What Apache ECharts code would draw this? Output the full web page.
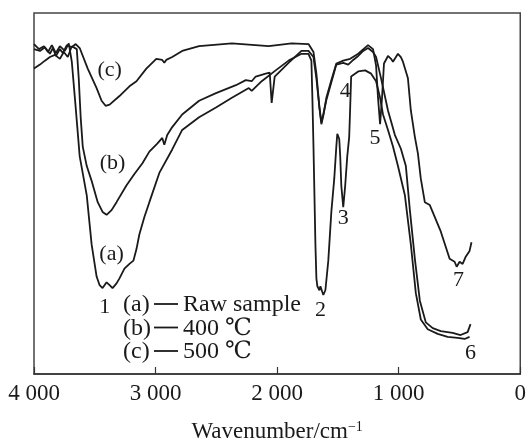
<!DOCTYPE html>
<html><head><meta charset="utf-8">
<script src="https://cdn.jsdelivr.net/npm/echarts@6/dist/echarts.min.js"></script>
<style>html,body{margin:0;padding:0;background:#fff}#chart{width:529px;height:448px}</style>
</head><body><div id="chart"></div>
<script>
// (a) Raw sample
const aWavenumber = [4000,3959,3918,3885,3853,3820,3787,3746,3714,3689,3657,3624,3566,3526,3485,3460,3436,3403,3378,3354,3321,3297,3256,3215,3182,3157,3133,3092,3051,2969,2863,2781,2642,2503,2372,2233,2209,2127,2012,1906,1800,1742,1718,1710,1701,1693,1685,1677,1669,1652,1644,1620,1603,1579,1554,1530,1513,1505,1489,1481,1472,1456,1440,1423,1407,1399,1391,1333,1276,1227,1186,1153,1129,1088,1047,1006,949,900,859,818,761,679,597,515,458,417];
const aTransmittance = [91.4,90.0,90.8,89.2,91.1,88.9,90.8,89.5,91.6,86.5,73.8,60.3,49.5,35.9,27.0,24.6,23.8,25.4,24.6,23.8,25.1,26.5,29.2,30.5,31.4,34.6,38.7,43.5,47.6,55.7,62.2,67.6,71.1,73.8,76.5,79.2,78.4,81.1,84.1,86.8,88.7,88.7,86.8,76.5,63.0,49.5,35.9,26.5,24.3,23.2,24.3,21.9,23.2,31.4,44.9,54.1,63.0,66.5,65.1,60.3,52.2,46.2,52.2,60.3,65.7,73.8,82.4,83.8,84.1,83.2,81.1,76.5,71.9,67.6,63.0,57.6,49.5,35.9,22.4,15.1,12.4,11.1,10.3,10.0,9.7,10.3];
// (b) 400 ℃
const bWavenumber = [4000,3951,3910,3869,3828,3787,3755,3722,3689,3648,3632,3616,3599,3566,3526,3476,3436,3403,3362,3321,3240,3174,3108,3051,2986,2945,2928,2904,2863,2781,2642,2503,2339,2258,2209,2176,2094,2061,2045,2020,1906,1800,1742,1701,1677,1652,1636,1620,1595,1554,1513,1456,1415,1374,1333,1292,1252,1211,1186,1145,1088,1031,982,941,908,867,826,777,720,654,556,491,433,409];
const bTransmittance = [84.6,85.7,86.8,87.8,88.4,87.3,89.2,87.8,90.8,90.0,81.9,71.1,63.0,57.6,53.5,47.6,44.9,44.1,45.4,47.6,52.2,55.4,58.4,61.6,63.8,65.4,63.5,66.2,68.4,71.9,75.7,77.8,80.0,81.4,81.1,82.4,83.2,83.5,75.1,82.4,86.2,89.5,89.5,87.8,81.9,73.8,69.7,71.9,75.9,80.8,85.7,86.2,85.7,87.0,88.1,89.5,90.3,89.2,87.8,81.9,73.0,66.2,62.4,57.6,45.4,31.9,20.3,14.3,12.7,11.9,11.4,10.8,11.6,13.8];
// (c) 500 ℃
const cWavenumber = [4000,3951,3910,3869,3845,3820,3787,3763,3730,3689,3657,3624,3558,3485,3444,3411,3378,3297,3215,3157,3076,2994,2945,2928,2912,2863,2781,2642,2372,2069,1881,1742,1701,1677,1652,1636,1620,1595,1554,1513,1456,1399,1333,1252,1211,1186,1170,1153,1137,1121,1088,1063,1047,1006,982,965,924,900,867,842,818,785,744,654,581,540,523,499,474,450,417,401];
const cTransmittance = [90.0,89.5,90.5,88.7,90.3,88.1,90.0,88.9,91.1,90.5,91.4,90.3,84.6,79.2,75.7,74.3,74.6,77.0,79.7,81.1,84.6,87.3,87.0,86.2,87.0,87.8,89.5,90.8,91.6,90.8,91.6,91.4,89.2,83.2,73.8,69.2,71.6,76.5,81.4,86.0,86.8,87.3,88.7,91.1,90.0,85.4,76.5,69.2,76.5,86.0,88.1,87.3,86.5,88.7,87.8,86.5,81.9,73.0,65.7,61.1,54.1,47.6,46.8,39.5,31.9,31.1,29.7,31.1,30.5,32.4,34.1,36.5];

// annotations
const annotTexts = ['1','2','3','4','5','6','7','(a)','(b)','(c)'];
const annotWavenumber = [3419,1644,1456,1440,1194,409,507,3362,3354,3378];
const annotTransmittance = [18.4,17.6,43.2,78.4,65.4,5.7,25.9,33.2,58.4,84.1];

// legend
const legendKeys = ['(a)','(b)','(c)'];
const legendNames = ['Raw sample','400 ℃','500 ℃'];

const xTicks = [4000,3000,2000,1000,0];
const xTickLabels = ['4 000','3 000','2 000','1 000','0'];

const FONT = "'Liberation Serif','DejaVu Serif','Times New Roman',serif";
const INK = '#1a1a1a';

function zip(xs, ys){ const n=Math.min(xs.length, ys.length); const r=[]; for(let i=0;i<n;i++) r.push([xs[i],ys[i]]); return r; }

const chart = echarts.init(document.getElementById('chart'), null, {renderer:'canvas'});

const lineSeries = (name, data) => ({
  name, type:'line', data, showSymbol:false, symbol:'none', smooth:false,
  lineStyle:{color:INK, width:1.8}, itemStyle:{color:INK}, silent:true, z:3
});

const annotSeries = {
  type:'line', data:[], silent:true,
  markPoint:{
    symbol:'circle', symbolSize:1, itemStyle:{color:'rgba(0,0,0,0)'},
    label:{show:true, position:'inside', fontFamily:FONT, fontSize:22, color:INK},
    data: annotTexts.map((t,i)=>({coord:[annotWavenumber[i], annotTransmittance[i]], label:{formatter:t}}))
  }
};

const legendGraphics = [];
const rowY = [305, 328.5, 352];
legendKeys.forEach((k,i)=>{
  legendGraphics.push({type:'text', x:123, y:rowY[i], style:{text:k, font:'24px '+FONT, fill:INK, verticalAlign:'middle', align:'left'}});
  legendGraphics.push({type:'line', shape:{x1:154,y1:rowY[i]-1,x2:178,y2:rowY[i]-1}, style:{stroke:INK, lineWidth:1.8}});
  legendGraphics.push({type:'text', x:183, y:rowY[i], style:{text:legendNames[i], font:'24px '+FONT, fill:INK, verticalAlign:'middle', align:'left'}});
});

chart.setOption({
  animation:false,
  backgroundColor:'#fff',
  grid:{left:34, right:6, top:13, bottom:65, show:true, borderColor:'#444', borderWidth:1.5, backgroundColor:'transparent'},
  xAxis:{
    type:'value', inverse:true, min:0, max:4000, interval:1000,
    axisLine:{show:true, onZero:false, lineStyle:{color:'#333', width:1.5}},
    axisTick:{show:true, inside:true, length:7, lineStyle:{color:'#333', width:1.2}},
    splitLine:{show:false},
    axisLabel:{margin:8, fontFamily:FONT, fontSize:23, color:INK,
      formatter:v=>{const i=xTicks.indexOf(v); return i>=0?xTickLabels[i]:'';}},
    name:'Wavenumber/cm{sup|−1}', nameLocation:'middle', nameGap:46,
    nameTextStyle:{fontFamily:FONT, fontSize:23, color:INK,
      rich:{sup:{fontFamily:FONT, fontSize:14, color:INK, verticalAlign:'top', padding:[0,0,9,0]}}}
  },
  yAxis:{type:'value', min:0, max:100, show:true, axisLine:{show:false}, axisTick:{show:false}, axisLabel:{show:false}, splitLine:{show:false}},
  series:[
    lineSeries('(a)', zip(aWavenumber, aTransmittance)),
    lineSeries('(b)', zip(bWavenumber, bTransmittance)),
    lineSeries('(c)', zip(cWavenumber, cTransmittance)),
    annotSeries
  ],
  graphic: legendGraphics
});
</script></body></html>
